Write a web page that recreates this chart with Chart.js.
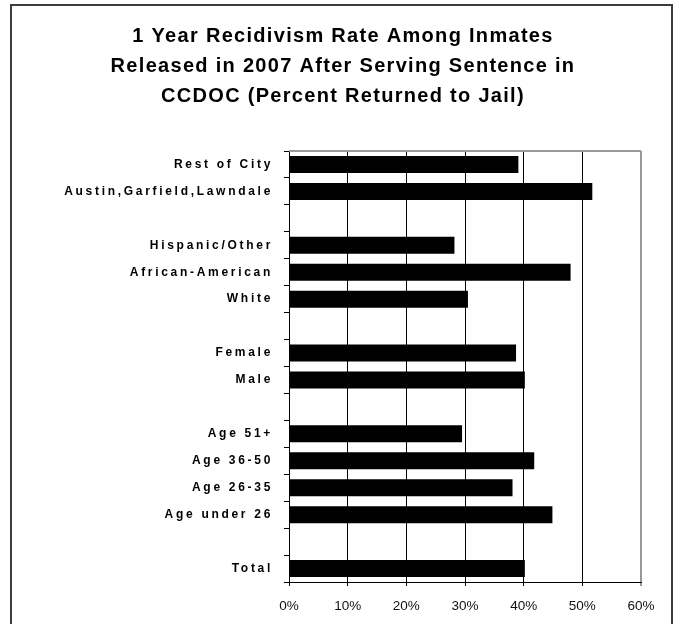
<!DOCTYPE html>
<html>
<head>
<meta charset="utf-8">
<script src="https://cdn.jsdelivr.net/npm/chart.js@4/dist/chart.umd.min.js"></script>
<style>
  body { margin: 0; background: #fff; }
</style>
</head>
<body>
<canvas id="chart" width="675" height="624"></canvas>
<script>
// rows top to bottom, '' = spacer row between groups
const categories = [
    'Rest of City', 'Austin,Garfield,Lawndale', '',
    'Hispanic/Other', 'African-American', 'White', '',
    'Female', 'Male', '',
    'Age 51+', 'Age 36-50', 'Age 26-35', 'Age under 26', '',
    'Total'
];
const returnedPct = [
    39.1, 51.7, null,
    28.2, 48.0, 30.5, null,
    38.7, 40.2, null,
    29.5, 41.8, 38.1, 44.9, null,
    40.2
];
const xTicks = [0, 10, 20, 30, 40, 50, 60];
const titleLines = [
    '1 Year Recidivism Rate Among Inmates',
    'Released in 2007 After Serving Sentence in',
    'CCDOC (Percent Returned to Jail)'
];

const fontFamily = "'Liberation Sans', Arial, sans-serif";

// chart.js fonts have no letter spacing, so wrap the draw call
function withSpacing(obj, method, spacing) {
    if (!obj || obj[method].spaced) return;
    const orig = obj[method].bind(obj);
    const wrapped = function(...args) {
        const ctx = obj.ctx;
        const prev = ctx.letterSpacing;
        ctx.letterSpacing = spacing;
        orig(...args);
        ctx.letterSpacing = prev;
    };
    wrapped.spaced = true;
    obj[method] = wrapped;
}

const spacingPlugin = {
    id: 'spacing',
    afterLayout(chart) {
        withSpacing(chart.titleBlock, 'draw', '1.3px');
        withSpacing(chart.scales.y, 'drawLabels', '2.7px');
    }
};

const framePlugin = {
    id: 'frame',
    beforeDraw(chart) {
        const ctx = chart.ctx;
        ctx.save();
        ctx.fillStyle = '#fff';
        ctx.fillRect(0, 0, chart.width, chart.height);
        ctx.strokeStyle = '#3c3c3c';
        ctx.lineWidth = 2;
        ctx.strokeRect(11, 5, chart.width - 14, chart.height + 20);
        ctx.restore();
    },
    afterDraw(chart) {
        const a = chart.chartArea;
        const ctx = chart.ctx;
        ctx.save();
        ctx.strokeStyle = '#999';
        ctx.lineWidth = 2;
        ctx.beginPath();
        ctx.moveTo(a.left, a.top);
        ctx.lineTo(a.right, a.top);
        ctx.stroke();
        ctx.restore();
    }
};

const config = {
    type: 'bar',
    data: {
        labels: categories,
        datasets: [{
            data: returnedPct,
            backgroundColor: '#000',
            borderWidth: 0,
            barPercentage: 0.63,
            categoryPercentage: 1
        }]
    },
    options: {
        indexAxis: 'y',
        responsive: false,
        animation: false,
        devicePixelRatio: 1,
        // left/right padding keep the title centred on the frame
        layout: { padding: { top: 0, left: 45, right: 34, bottom: 0 } },
        plugins: {
            legend: { display: false },
            tooltip: { enabled: false },
            title: {
                display: true,
                text: titleLines,
                color: '#000',
                font: { family: fontFamily, size: 20, weight: 'bold', lineHeight: 1.5 },
                padding: { top: 21, bottom: 40 }
            }
        },
        scales: {
            x: {
                min: 0,
                max: 60,
                afterBuildTicks(scale) {
                    scale.ticks = xTicks.map(v => ({ value: v }));
                },
                afterFit(scale) { scale.height = 42; },
                ticks: {
                    color: '#111',
                    padding: 12,
                    font: { family: fontFamily, size: 13.5 },
                    callback: v => v + '%'
                },
                grid: {
                    color: c => c.tick && c.tick.value === 60 ? '#999' : '#000',
                    lineWidth: c => c.tick && c.tick.value === 60 ? 2 : 1,
                    tickLength: 4
                },
                border: { color: '#000', width: 1 }
            },
            y: {
                afterFit(scale) { scale.width = 244; },
                ticks: {
                    color: '#000',
                    padding: 11,
                    autoSkip: false,
                    font: { family: fontFamily, size: 12, weight: 'bold' }
                },
                grid: {
                    offset: true,
                    drawOnChartArea: false,
                    drawTicks: true,
                    tickLength: 5,
                    color: '#000'
                },
                border: { color: '#000', width: 1 }
            }
        }
    },
    plugins: [framePlugin, spacingPlugin]
};

const chart = new Chart(document.getElementById('chart'), config);
</script>
</body>
</html>
